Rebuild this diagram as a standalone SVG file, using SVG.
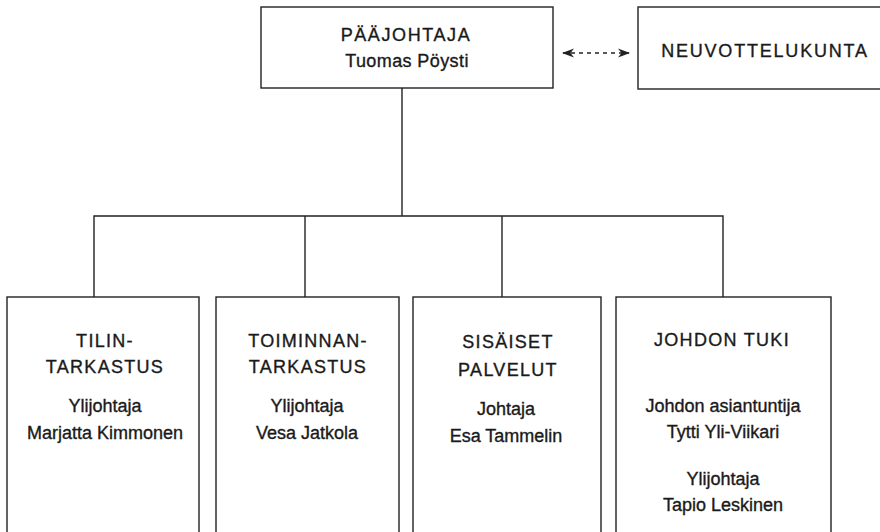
<svg xmlns="http://www.w3.org/2000/svg" width="880" height="532" viewBox="0 0 880 532">
<style>
.box{fill:#fff;stroke:#222;stroke-width:1.4}
.ln{fill:none;stroke:#222;stroke-width:1.4}
text{font-family:"Liberation Sans",Arial,sans-serif;fill:#1a1a1a;stroke:#1a1a1a;stroke-width:0.35;text-anchor:middle;font-size:18px}
.t{letter-spacing:1.3px}
</style>
<defs>
<marker id="ah" viewBox="0 0 12 10" refX="11" refY="5" markerWidth="12" markerHeight="10" markerUnits="userSpaceOnUse" orient="auto-start-reverse">
<path d="M0,0.5 L12,5 L0,9.5 L3.5,5 Z" fill="#222"/>
</marker>
</defs>
<g id="connectors">
<line class="ln" x1="402" y1="88" x2="402" y2="216"/>
<polyline class="ln" points="94,297 94,216 723,216 723,297"/>
<line class="ln" x1="305" y1="216" x2="305" y2="297"/>
<line class="ln" x1="502" y1="216" x2="502" y2="297"/>
<line class="ln" x1="563" y1="53" x2="629" y2="53" stroke-width="1.6" stroke-dasharray="4,4" marker-start="url(#ah)" marker-end="url(#ah)"/>
</g>
<g id="paajohtaja">
<rect class="box" x="261" y="7" width="292" height="81"/>
<text class="t" x="406" y="41" style="letter-spacing:1.6px">PÄÄJOHTAJA</text>
<text x="407" y="67" style="letter-spacing:0.4px">Tuomas Pöysti</text>
</g>
<g id="neuvottelukunta">
<rect class="box" x="638" y="7" width="252" height="82"/>
<text class="t" x="765" y="57" style="letter-spacing:1.8px">NEUVOTTELUKUNTA</text>
</g>
<g id="tilintarkastus">
<rect class="box" x="7" y="297" width="192" height="250"/>
<text class="t" x="105" y="347">TILIN-</text>
<text class="t" x="105" y="373">TARKASTUS</text>
<text x="105" y="412">Ylijohtaja</text>
<text x="105" y="439">Marjatta Kimmonen</text>
</g>
<g id="toiminnantarkastus">
<rect class="box" x="216" y="297" width="183" height="250"/>
<text class="t" x="308" y="347">TOIMINNAN-</text>
<text class="t" x="308" y="373">TARKASTUS</text>
<text x="307" y="412">Ylijohtaja</text>
<text x="307" y="439">Vesa Jatkola</text>
</g>
<g id="sisaiset-palvelut">
<rect class="box" x="413" y="297" width="188" height="250"/>
<text class="t" x="508" y="348">SISÄISET</text>
<text class="t" x="508" y="376">PALVELUT</text>
<text x="506" y="415">Johtaja</text>
<text x="506" y="442">Esa Tammelin</text>
</g>
<g id="johdon-tuki">
<rect class="box" x="616" y="297" width="215" height="250"/>
<text class="t" x="722" y="346">JOHDON TUKI</text>
<text x="723" y="412">Johdon asiantuntija</text>
<text x="723" y="438">Tytti Yli-Viikari</text>
<text x="723" y="485">Ylijohtaja</text>
<text x="723" y="511">Tapio Leskinen</text>
</g>
</svg>
